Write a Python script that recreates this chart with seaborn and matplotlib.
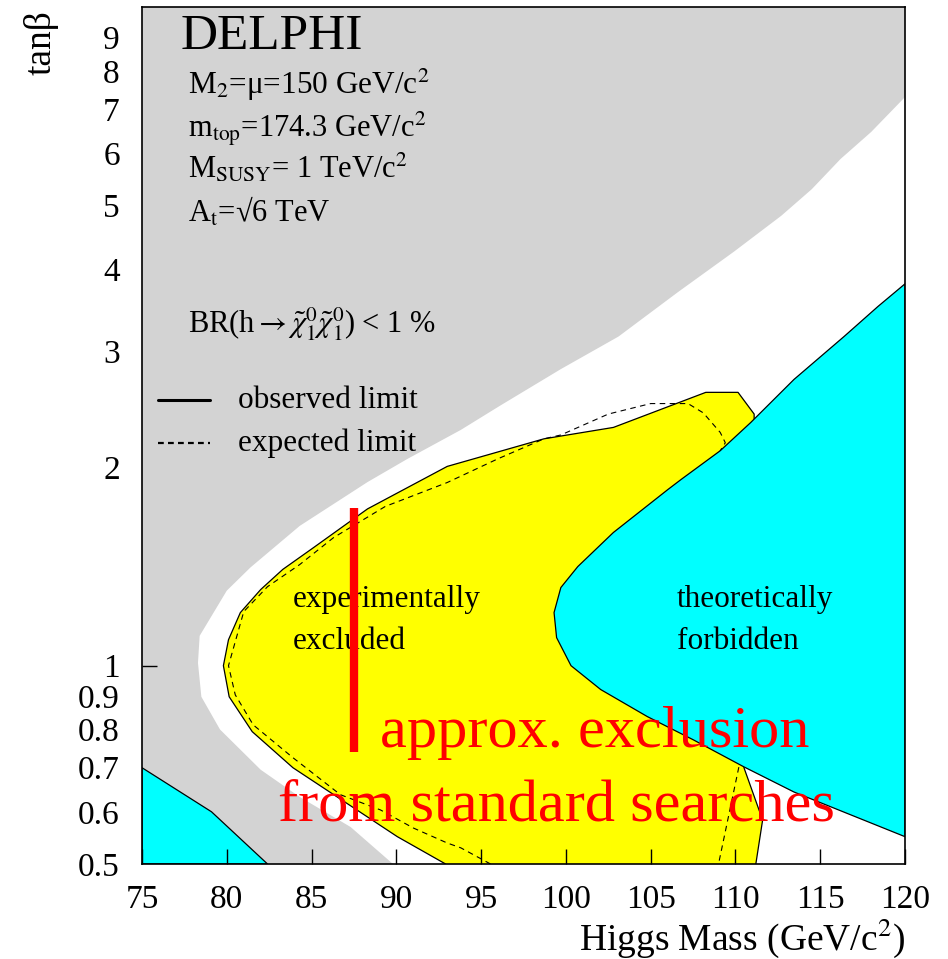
import numpy as np
import matplotlib
matplotlib.use("Agg")
import matplotlib.pyplot as plt
import seaborn as sns
from matplotlib.ticker import FixedLocator, MultipleLocator, FuncFormatter, NullFormatter

# ---------------- data ----------------
# upper-left grey region boundary (Higgs mass, tan beta)
gray_mass = [120.0, 118.0, 116.2, 114.5, 112.7, 109.9, 106.6, 103.1, 99.7, 96.1,
             93.8, 90.65, 88.3, 84.3, 81.4, 80.0, 78.4, 78.3, 78.5, 79.6,
             82.0, 84.3, 87.3, 89.8]
gray_tanb = [7.30, 6.46, 5.88, 5.29, 4.82, 4.25, 3.69, 3.16, 2.82, 2.48,
             2.28, 2.06, 1.90, 1.63, 1.41, 1.30, 1.11, 1.01, 0.897, 0.80,
             0.695, 0.632, 0.569, 0.5]

# observed limit contour (yellow, experimentally excluded)
obs_mass = [92.9, 90.06, 83.9, 81.5, 80.14, 79.8, 80.1, 80.8, 82.0, 83.3,
            85.1, 88.3, 93.0, 98.7, 102.8, 108.25, 110.15, 111.1, 111.1,
            110.5, 111.6, 111.2]
obs_tanb = [0.5, 0.55, 0.70, 0.794, 0.897, 1.0, 1.095, 1.204, 1.305, 1.40,
            1.51, 1.73, 2.007, 2.21, 2.30, 2.60, 2.60, 2.41, 2.31,
            0.70, 0.583, 0.5]

# expected limit contour (dashed)
exp_mass = [95.55, 93.8, 93.0, 91.0, 89.06, 86.7, 83.9, 81.56, 80.5, 80.1,
            81.0, 82.4, 84.3, 86.3, 89.35, 93.0, 95.97, 98.7, 99.7, 102.5,
            105.0, 107.2, 108.1, 109.1, 109.4, 109.1, 110.2, 109.0]
exp_tanb = [0.5, 0.529, 0.538, 0.567, 0.604, 0.637, 0.725, 0.813, 0.903, 1.0,
            1.208, 1.318, 1.424, 1.565, 1.745, 1.897, 2.06, 2.21, 2.24, 2.41,
            2.50, 2.50, 2.42, 2.26, 2.18, 2.12, 0.702, 0.5]

# theoretically forbidden region (cyan, right)
cyan_mass = [120.0, 118.4, 116.4, 113.45, 110.9, 109.1, 106.8, 106.0, 102.8,
             100.7, 99.7, 99.3, 99.45, 100.3, 102.05, 104.8, 107.5, 110.5,
             113.45, 120.0]
cyan_tanb = [3.80, 3.51, 3.16, 2.72, 2.34, 2.12, 1.918, 1.85, 1.593,
             1.414, 1.314, 1.204, 1.103, 1.0, 0.92, 0.837, 0.772, 0.702,
             0.643, 0.55]

# theoretically forbidden region (cyan, lower left)
cyan2_mass = [75.0, 79.1, 82.4, 75.0]
cyan2_tanb = [0.70, 0.60, 0.5, 0.5]

# approximate exclusion from standard searches (red bar)
red_mass = [87.5, 87.5]
red_tanb = [0.74, 1.733]

x_major = [75, 80, 85, 90, 95, 100, 105, 110, 115, 120]
y_major = [1]
y_minor = [0.5, 0.6, 0.7, 0.8, 0.9, 2, 3, 4, 5, 6, 7, 8, 9]

# ---------------- style ----------------
sns.set_style("white")
plt.rcParams['font.family'] = ['Liberation Serif', 'DejaVu Serif']
plt.rcParams['mathtext.fontset'] = 'stix'
for k in ['text.color', 'axes.labelcolor', 'xtick.color', 'ytick.color',
          'axes.edgecolor']:
    plt.rcParams[k] = 'black'

GRAY = '#d3d3d3'
YELLOW = '#ffff00'
CYAN = '#00ffff'

fig = plt.figure(figsize=(9.48, 9.59), dpi=100)
ax = fig.add_axes([0.1498, 0.0991, 0.8049, 0.8936])
ax.set_axisbelow(False)
ax.set_yscale('log')
ax.set_xlim(75, 120)
ax.set_ylim(0.5, 10)

# grey region (upper left)
ax.fill([75, 75, 120] + gray_mass, [0.5, 10, 10] + gray_tanb,
        color=GRAY, lw=0, zorder=0.6)

# yellow observed region
ax.fill(obs_mass, obs_tanb, color=YELLOW, lw=0, zorder=0.8)
sns.lineplot(x=obs_mass, y=obs_tanb, sort=False, estimator=None, ax=ax,
             color='black', lw=0.9, zorder=1.0)
sns.lineplot(x=exp_mass, y=exp_tanb, sort=False, estimator=None, ax=ax,
             color='black', lw=0.8, linestyle=(0, (5, 4)), zorder=1.1)

# cyan regions
ax.fill(cyan_mass, cyan_tanb, facecolor=CYAN, edgecolor='black', lw=0.9,
        zorder=1.5)
ax.fill(cyan2_mass, cyan2_tanb, facecolor=CYAN, edgecolor='black', lw=0.9,
        zorder=1.5)

# red bar
sns.lineplot(x=red_mass, y=red_tanb, sort=False, estimator=None, ax=ax,
             color='red', lw=6, zorder=5, solid_capstyle='butt')

# ---------------- axes / ticks ----------------
ax.xaxis.set_major_locator(FixedLocator(x_major))
ax.xaxis.set_minor_locator(MultipleLocator(1))
ax.xaxis.set_minor_formatter(NullFormatter())
ax.yaxis.set_major_locator(FixedLocator(y_major))
ax.yaxis.set_minor_locator(FixedLocator(y_minor))
fmt = FuncFormatter(lambda v, p: f"{v:g}")
ax.yaxis.set_major_formatter(fmt)
ax.yaxis.set_minor_formatter(fmt)
ax.xaxis.set_major_formatter(fmt)

ax.tick_params(axis='both', which='major', direction='in', length=11,
               width=1, labelsize=24, color='black', labelcolor='black')
ax.tick_params(axis='both', which='minor', direction='in', length=5.5,
               width=1, labelsize=24, color='black', labelcolor='black')
ax.tick_params(axis='y', which='both', pad=16)
ax.tick_params(axis='x', which='both', pad=15)
ax.tick_params(top=False, right=False, bottom=True, left=True)
for s in ax.spines.values():
    s.set_color('black')
    s.set_linewidth(1.2)
    s.set_zorder(10)
ax.set_xlabel('')
ax.set_ylabel('')

# ---------------- texts ----------------
T = ax.transAxes
ax.text(0.0499, 0.965, 'DELPHI', transform=T, fontsize=37, va='center',
        ha='left', zorder=6)
ax.text(0.0604, 0.8985, r'M$_2$=μ=150 GeV/c$^2$', transform=T, fontsize=22.5,
        va='baseline', zorder=6)
ax.text(0.0604, 0.8483, r'm$_{\mathrm{top}}$=174.3 GeV/c$^2$', transform=T,
        fontsize=22, va='baseline', zorder=6)
ax.text(0.0604, 0.8005, r'M$_{\mathrm{SUSY}}$= 1 TeV/c$^2$', transform=T,
        fontsize=22, va='baseline', zorder=6)
ax.text(0.0604, 0.749, r'A$_{\mathrm{t}}$=√6 TeV', transform=T,
        fontsize=22, va='baseline', zorder=6)
ax.text(0.0604, 0.6196,
        r'BR(h$\rightarrow\tilde{\chi}^0_1\tilde{\chi}^0_1$) < 1 %',
        transform=T, fontsize=22, va='baseline', zorder=6)

# legend
ax.plot([0.021, 0.089], [0.5414, 0.5414], transform=T, color='black', lw=2.2,
        zorder=6)
ax.plot([0.021, 0.089], [0.491, 0.491], transform=T, color='black', lw=1.6,
        linestyle=(0, (2.6, 1.9)), zorder=6)
ax.text(0.126, 0.5414, 'observed limit', transform=T, fontsize=22.5,
        va='center', zorder=6)
ax.text(0.126, 0.491, 'expected limit', transform=T, fontsize=22.5,
        va='center', zorder=6)

# region labels
ax.text(0.198, 0.300, 'experimentally', transform=T, fontsize=22.5,
        va='baseline', zorder=4)
ax.text(0.198, 0.251, 'excluded', transform=T, fontsize=22.5,
        va='baseline', zorder=4)
ax.text(0.7008, 0.300, 'theoretically', transform=T, fontsize=22.5,
        va='baseline', zorder=4)
ax.text(0.7008, 0.251, 'forbidden', transform=T, fontsize=22.5,
        va='baseline', zorder=4)

ax.text(0.3123, 0.1365, 'approx. exclusion', transform=T, fontsize=43.5,
        color='red', va='baseline', zorder=7)
ax.text(0.1785, 0.0513, 'from standard searches', transform=T, fontsize=43.5,
        color='red', va='baseline', zorder=7)

# axis titles
ax.text(1.0, -0.1003, r'Higgs Mass (GeV/c$^2$)', transform=T, fontsize=27,
        ha='right', va='baseline')
ax.text(-0.1325, 0.9965, 'tanβ', transform=T, fontsize=27, rotation=90,
        ha='center', va='top')

fig.savefig('out.png', dpi=100)
